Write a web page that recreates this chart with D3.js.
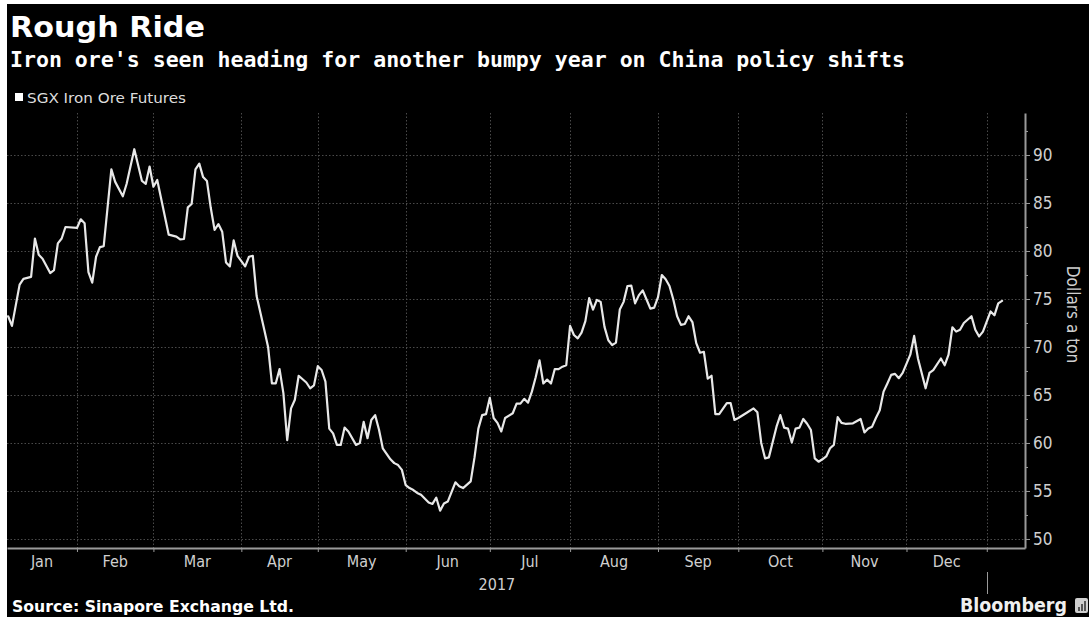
<!DOCTYPE html>
<html>
<head>
<meta charset="utf-8">
<script src="https://cdn.jsdelivr.net/npm/d3@7"></script>
<style>
  html, body { margin: 0; padding: 0; background: #fff; }
  svg { display: block; }
</style>
</head>
<body>
<div id="chart"></div>
<script>
// SGX iron ore futures (dollars a ton)
const dates = [
  "2017-01-06","2017-01-09","2017-01-11","2017-01-12","2017-01-16","2017-01-17","2017-01-18","2017-01-19",
  "2017-01-23","2017-01-24","2017-01-25","2017-01-26","2017-01-27","2017-02-01","2017-02-02","2017-02-03",
  "2017-02-06","2017-02-07","2017-02-08","2017-02-09","2017-02-10","2017-02-14","2017-02-15","2017-02-17",
  "2017-02-20","2017-02-22","2017-02-24","2017-02-27","2017-02-28","2017-03-01","2017-03-02","2017-03-07",
  "2017-03-09","2017-03-10","2017-03-13","2017-03-14","2017-03-15","2017-03-16","2017-03-17","2017-03-20",
  "2017-03-21","2017-03-22","2017-03-23","2017-03-24","2017-03-27","2017-03-28","2017-03-29","2017-03-30",
  "2017-03-31","2017-04-04","2017-04-05","2017-04-06","2017-04-07","2017-04-11","2017-04-12","2017-04-13",
  "2017-04-14","2017-04-17","2017-04-18","2017-04-19","2017-04-20","2017-04-21","2017-04-24","2017-04-26",
  "2017-04-27","2017-04-28","2017-05-01","2017-05-02","2017-05-03","2017-05-04","2017-05-05","2017-05-08",
  "2017-05-09","2017-05-10","2017-05-11","2017-05-15","2017-05-16","2017-05-17","2017-05-18","2017-05-19",
  "2017-05-22","2017-05-23","2017-05-24","2017-05-26","2017-05-29","2017-05-30","2017-05-31","2017-06-01",
  "2017-06-02","2017-06-05","2017-06-06","2017-06-07","2017-06-09","2017-06-12","2017-06-13","2017-06-14",
  "2017-06-15","2017-06-16","2017-06-20","2017-06-21","2017-06-22","2017-06-26","2017-06-27","2017-06-28",
  "2017-06-29","2017-06-30","2017-07-03","2017-07-04","2017-07-05","2017-07-06","2017-07-07","2017-07-11",
  "2017-07-12","2017-07-13","2017-07-14","2017-07-17","2017-07-18","2017-07-19","2017-07-20","2017-07-21",
  "2017-07-24","2017-07-25","2017-07-26","2017-07-27","2017-07-28","2017-07-31","2017-08-01","2017-08-02",
  "2017-08-03","2017-08-04","2017-08-07","2017-08-08","2017-08-09","2017-08-10","2017-08-11","2017-08-14",
  "2017-08-15","2017-08-16","2017-08-17","2017-08-18","2017-08-21","2017-08-22","2017-08-23","2017-08-24",
  "2017-08-25","2017-08-28","2017-08-29","2017-08-30","2017-08-31","2017-09-01","2017-09-04","2017-09-05",
  "2017-09-06","2017-09-07","2017-09-08","2017-09-11","2017-09-12","2017-09-13","2017-09-14","2017-09-15",
  "2017-09-18","2017-09-19","2017-09-20","2017-09-21","2017-09-22","2017-09-25","2017-09-27","2017-09-28",
  "2017-09-29","2017-10-02","2017-10-04","2017-10-06","2017-10-09","2017-10-10","2017-10-11","2017-10-12",
  "2017-10-16","2017-10-17","2017-10-18","2017-10-19","2017-10-20","2017-10-23","2017-10-24","2017-10-25",
  "2017-10-26","2017-10-27","2017-10-30","2017-10-31","2017-11-01","2017-11-02","2017-11-03","2017-11-06",
  "2017-11-07","2017-11-08","2017-11-09","2017-11-13","2017-11-15","2017-11-16","2017-11-17","2017-11-20",
  "2017-11-21","2017-11-22","2017-11-23","2017-11-24","2017-11-27","2017-11-28","2017-11-29","2017-11-30",
  "2017-12-04","2017-12-05","2017-12-06","2017-12-08","2017-12-11","2017-12-12","2017-12-14","2017-12-15",
  "2017-12-18","2017-12-19","2017-12-20","2017-12-21","2017-12-22","2017-12-26","2017-12-27","2017-12-28",
  "2017-12-29","2018-01-02","2018-01-03","2018-01-04","2018-01-05"
];
const prices = [
  73.2, 72.2, 76.5, 77.1, 77.3, 81.3, 79.6, 79.2,
  77.7, 78.0, 80.8, 81.3, 82.5, 82.4, 83.3, 82.9,
  77.8, 76.7, 79.4, 80.4, 80.5, 88.5, 87.2, 85.7,
  87.0, 90.6, 87.3, 87.0, 88.8, 86.7, 87.4, 81.7,
  81.5, 81.2, 81.25, 84.55, 84.9, 88.5, 89.1, 87.7,
  87.3, 84.5, 82.2, 82.8, 82.0, 78.8, 78.4, 81.1,
  79.5, 78.4, 79.4, 79.5, 75.3, 71.8, 70.0, 66.2,
  66.2, 67.7, 65.2, 60.3, 63.6, 64.5, 67.0, 66.3,
  65.7, 66.0, 68.0, 67.6, 66.4, 61.5, 61.0, 59.8,
  59.8, 61.6, 61.2, 59.8, 60.0, 62.2, 60.5, 62.4,
  62.9, 61.4, 59.45, 58.3, 57.9, 57.7, 57.2, 55.6,
  55.3, 55.1, 54.8, 54.6, 53.8, 53.65, 54.3, 52.95,
  53.7, 53.9, 55.9, 55.5, 55.3, 56.0, 58.5, 61.5,
  62.9, 63.0, 64.7, 62.6, 62.1, 61.2, 62.6, 63.1,
  64.1, 64.1, 64.6, 64.2, 65.35, 66.85, 68.6, 66.2,
  66.6, 66.2, 67.7, 67.7, 67.95, 68.1, 72.2, 71.25,
  70.9, 71.5, 72.7, 75.1, 73.9, 74.9, 74.7, 72.1,
  70.7, 70.2, 70.45, 73.9, 74.7, 76.35, 76.4, 74.55,
  75.4, 75.9, 74.95, 74.0, 74.1, 75.2, 77.5, 77.05,
  76.35, 74.95, 73.2, 72.3, 72.4, 73.2, 72.6, 70.4,
  69.4, 69.5, 66.7, 67.0, 63.0, 63.0, 64.15, 64.15,
  62.4, 62.6, 63.1, 63.6, 63.2, 60.0, 58.4, 58.5,
  61.7, 62.9, 61.6, 61.5, 60.05, 61.5, 61.6, 62.5,
  62.0, 61.35, 58.4, 58.05, 58.3, 58.6, 59.45, 59.8,
  62.7, 62.1, 62.0, 62.05, 62.5, 61.1, 61.5, 61.7,
  62.6, 63.4, 65.35, 66.2, 67.1, 67.2, 66.75, 67.3,
  69.2, 71.15, 68.8, 65.7, 67.3, 67.6, 68.8, 68.1,
  69.2, 72.05, 71.6, 71.8, 72.5, 73.2, 71.8, 71.1,
  71.6, 73.7, 73.3, 74.55, 74.8
];
const monthLabels = ["Jan","Feb","Mar","Apr","May","Jun","Jul","Aug","Sep","Oct","Nov","Dec"];
const yearLabel = "2017";
const yTicks = [50, 55, 60, 65, 70, 75, 80, 85, 90];
const yMinorTicks = [52.5, 57.5, 62.5, 67.5, 72.5, 77.5, 82.5, 87.5, 92.5];

const W = 1089, H = 617;
const plot = { left: 7, right: 1025, top: 113, bottom: 548 };

const parse = d3.utcParse("%Y-%m-%d");
const base = parse("2017-01-02"); // a Monday

// Bloomberg spaces trading days evenly, so x runs on a weekday count
function bizIndex(d) {
  const days = d3.utcDay.count(base, d);
  const weeks = Math.floor(days / 7);
  return weeks * 5 + Math.min(days % 7, 5);
}

const data = dates.map((d, i) => ({ k: bizIndex(parse(d)), v: prices[i] }));

const x = d3.scaleLinear()
  .domain([data[0].k - 0.3, bizIndex(parse("2018-01-15"))])
  .range([plot.left, plot.right]);

const y = d3.scaleLinear()
  .domain([49.06, 94.375])
  .range([plot.bottom, plot.top]);

const svg = d3.select("#chart").append("svg")
  .attr("width", W)
  .attr("height", H);

svg.append("rect")
  .attr("x", 7).attr("y", 4)
  .attr("width", W - 7).attr("height", H - 4)
  .attr("fill", "#000");

const monthStarts = d3.utcMonths(parse("2017-02-01"), parse("2018-01-02"));
const monthK = monthStarts.map(bizIndex);

// gridlines
const grid = svg.append("g")
  .attr("stroke", "#4a4a4a")
  .attr("stroke-width", 1)
  .attr("stroke-dasharray", "1.5,2");

grid.selectAll("line.h")
  .data(yTicks)
  .enter().append("line")
  .attr("class", "h")
  .attr("x1", plot.left).attr("x2", plot.right)
  .attr("y1", d => Math.round(y(d)) + 0.5)
  .attr("y2", d => Math.round(y(d)) + 0.5);

grid.selectAll("line.v")
  .data(monthK)
  .enter().append("line")
  .attr("class", "v")
  .attr("x1", d => Math.round(x(d)) + 0.5)
  .attr("x2", d => Math.round(x(d)) + 0.5)
  .attr("y1", plot.top)
  .attr("y2", plot.bottom);

// bottom axis line + month ticks
const xAxis = d3.axisBottom(x)
  .tickValues(monthK)
  .tickSize(4)
  .tickSizeOuter(0)
  .tickFormat("");

const gx = svg.append("g")
  .attr("transform", `translate(0,${plot.bottom})`)
  .call(xAxis);
gx.select(".domain").attr("stroke", "#9a9a9a").attr("stroke-width", 2);
gx.selectAll(".tick line").attr("stroke", "#9a9a9a");

// month labels centred in the visible part of each month
const bounds = [x.domain()[0]].concat(monthK);
const labelFont = "'DejaVu Sans Condensed', 'DejaVu Sans', sans-serif";
svg.append("g").selectAll("text")
  .data(monthLabels)
  .enter().append("text")
  .attr("x", (d, i) => (x(bounds[i]) + x(bounds[i + 1])) / 2)
  .attr("y", 567)
  .attr("text-anchor", "middle")
  .attr("fill", "#cfcfcf")
  .style("font-family", labelFont)
  .style("font-size", "16px")
  .text(d => d);

const yearEnd = monthK[monthK.length - 1];
svg.append("text")
  .attr("x", (x(x.domain()[0]) + x(yearEnd)) / 2)
  .attr("y", 590)
  .attr("text-anchor", "middle")
  .attr("fill", "#cfcfcf")
  .style("font-family", labelFont)
  .style("font-size", "16px")
  .text(yearLabel);

svg.append("line")
  .attr("x1", Math.round(x(yearEnd)) + 0.5)
  .attr("x2", Math.round(x(yearEnd)) + 0.5)
  .attr("y1", 572).attr("y2", 594)
  .attr("stroke", "#9a9a9a")
  .attr("stroke-width", 1);

// right axis
const yAxis = d3.axisRight(y)
  .tickValues(yTicks)
  .tickSize(5)
  .tickSizeOuter(0)
  .tickPadding(3);

const gy = svg.append("g")
  .attr("transform", `translate(${plot.right},0)`)
  .call(yAxis);
gy.select(".domain").attr("stroke", "#9a9a9a").attr("stroke-width", 2);
gy.selectAll(".tick line").attr("stroke", "#9a9a9a");
gy.selectAll(".tick text")
  .attr("fill", "#cfcfcf")
  .style("font-family", labelFont)
  .style("font-size", "17px");

svg.append("g")
  .attr("transform", `translate(${plot.right},0)`)
  .call(d3.axisRight(y).tickValues(yMinorTicks).tickSize(3).tickFormat(""))
  .call(g => g.select(".domain").remove())
  .selectAll(".tick line").attr("stroke", "#9a9a9a");

svg.append("text")
  .attr("transform", `translate(1067,${(plot.top + plot.bottom) / 2 - 16}) rotate(90)`)
  .attr("text-anchor", "middle")
  .attr("fill", "#cfcfcf")
  .style("font-family", labelFont)
  .style("font-size", "17px")
  .text("Dollars a ton");

// the series
svg.append("clipPath").attr("id", "clip")
  .append("rect")
  .attr("x", plot.left).attr("y", plot.top)
  .attr("width", plot.right - plot.left).attr("height", plot.bottom - plot.top);

const line = d3.line()
  .x(d => x(d.k))
  .y(d => y(d.v));

svg.append("path")
  .datum(data)
  .attr("clip-path", "url(#clip)")
  .attr("d", line)
  .attr("fill", "none")
  .attr("stroke", "#e8e8e8")
  .attr("stroke-width", 2.2)
  .attr("stroke-linejoin", "round")
  .attr("stroke-linecap", "round");

// titles
svg.append("text")
  .attr("x", 10).attr("y", 37)
  .attr("fill", "#fff")
  .attr("textLength", 195)
  .attr("lengthAdjust", "spacingAndGlyphs")
  .style("font-family", "'DejaVu Sans', sans-serif")
  .style("font-weight", "bold")
  .style("font-size", "28px")
  .text("Rough Ride");

svg.append("text")
  .attr("x", 10).attr("y", 67)
  .attr("fill", "#fff")
  .attr("textLength", 895)
  .attr("lengthAdjust", "spacingAndGlyphs")
  .style("font-family", "'DejaVu Sans Mono', monospace")
  .style("font-weight", "bold")
  .style("font-size", "21.5px")
  .text("Iron ore's seen heading for another bumpy year on China policy shifts");

// legend
svg.append("rect")
  .attr("x", 15).attr("y", 93)
  .attr("width", 8).attr("height", 8)
  .attr("fill", "#fff");
svg.append("text")
  .attr("x", 27).attr("y", 103)
  .attr("fill", "#dcdcdc")
  .attr("textLength", 159)
  .attr("lengthAdjust", "spacingAndGlyphs")
  .style("font-family", "'DejaVu Sans', sans-serif")
  .style("font-size", "14px")
  .text("SGX Iron Ore Futures");

// footer
svg.append("text")
  .attr("x", 12).attr("y", 612)
  .attr("fill", "#fff")
  .attr("textLength", 282)
  .attr("lengthAdjust", "spacingAndGlyphs")
  .style("font-family", "'DejaVu Sans', sans-serif")
  .style("font-weight", "bold")
  .style("font-size", "15px")
  .text("Source: Sinapore Exchange Ltd.");

svg.append("text")
  .attr("x", 960).attr("y", 612)
  .attr("fill", "#f0f0f0")
  .attr("textLength", 107)
  .attr("lengthAdjust", "spacingAndGlyphs")
  .style("font-family", "'DejaVu Sans', sans-serif")
  .style("font-weight", "bold")
  .style("font-size", "19px")
  .text("Bloomberg");

const icon = svg.append("g").attr("transform", "translate(1075,598)");
icon.append("rect").attr("width", 13).attr("height", 15).attr("rx", 2).attr("fill", "#cfcfcf");
icon.selectAll("rect.bar")
  .data([4, 7, 10])
  .enter().append("rect")
  .attr("class", "bar")
  .attr("x", (d, i) => 3 + i * 3)
  .attr("y", d => 13 - d)
  .attr("width", 2)
  .attr("height", d => d)
  .attr("fill", "#555");
</script>
</body>
</html>
